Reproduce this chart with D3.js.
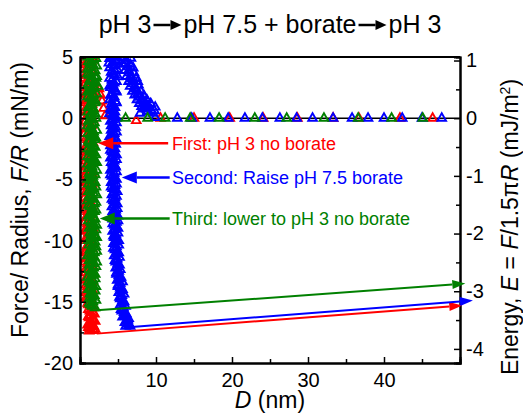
<!DOCTYPE html>
<html>
<head>
<meta charset="utf-8">
<script src="https://cdn.jsdelivr.net/npm/d3@7"></script>
<style>
  body { margin: 0; background: #fff; }
  text { font-family: "Liberation Sans", Arial, sans-serif; }
</style>
</head>
<body>
<div id="chart"></div>
<script>
var svgWidth = 523;
var svgHeight = 419;

var margin = {
  top: 57,
  right: 63,
  bottom: 56,
  left: 80
};

var width = svgWidth - margin.left - margin.right;
var height = svgHeight - margin.top - margin.bottom;

// Data: [D (nm), F/R (mN/m)]
// First: pH 3 no borate (red)
var firstContact = [[1.2,6.0],[0.7,5.75],[1.5,5.5],[0.9,5.25],[1.7,5.0],[0.6,4.75],[1.1,4.5],[1.4,4.25],[0.8,4.0],
  [1.6,3.75],[1.0,3.5],[0.6,3.25],[1.3,3.0],[1.8,2.75],[0.9,2.5],[1.2,2.25],[0.7,2.0],[1.5,1.75],[1.0,1.5],
  [0.6,1.25],[1.4,1.0],[1.7,0.75],[0.8,0.5],[1.1,0.25],[1.5,0.0],[0.7,-0.25],[1.2,-0.5],[0.9,-0.75],[1.6,-1.0],
  [0.6,-1.25],[1.3,-1.5],[1.0,-1.75],[1.7,-2.0],[0.8,-2.25],[1.2,-2.5],[0.6,-2.75],[1.5,-3.0],[1.0,-3.25],
  [0.7,-3.5],[1.4,-3.75],[1.1,-4.0],[0.6,-4.25],[1.6,-4.5],[0.9,-4.75],[1.3,-5.0],[0.7,-5.25],[1.1,-5.5],
  [1.7,-5.75],[0.8,-6.0],[1.4,-6.25],[0.6,-6.5],[1.2,-6.75],[1.0,-7.0],[1.6,-7.25],[0.7,-7.5],[1.3,-7.75],
  [0.9,-8.0],[1.5,-8.25],[0.6,-8.5],[1.1,-8.75],[1.7,-9.0],[0.8,-9.25],[1.3,-9.5],[1.0,-9.75],[0.6,-10.0],
  [1.5,-10.25],[0.9,-10.5],[1.2,-10.75],[0.7,-11.0],[1.6,-11.25],[1.0,-11.5],[0.6,-11.75],[1.4,-12.0],
  [0.8,-12.25],[1.2,-12.5],[1.7,-12.75],[0.9,-13.0],[0.6,-13.25],[1.3,-13.5],[1.0,-13.75],[1.6,-14.0],
  [0.7,-14.25],[1.2,-14.5],[0.9,-14.75],[1.5,-15.0],[1.1,-15.25],[1.8,-15.5],[1.3,-15.75],[1.9,-16.0],
  [1.1,-16.2],[1.6,-16.4],[2.0,-16.6],[1.2,-16.8],[1.8,-17.0],[1.1,-17.1],[2.0,-17.25],[1.5,-17.35],[1.2,-17.4],
  [1.0,5.875],[1.6,5.625],[0.7,5.375],[1.3,5.125],[1.1,4.875],[1.5,4.625],[0.7,4.375],[1.2,4.125],[1.7,3.875],
  [0.8,3.625],[1.3,3.375],[1.0,3.125],[0.7,2.875],[1.5,2.625],[1.1,2.375],[1.7,2.125],[0.9,1.875],[1.3,1.625],
  [0.8,1.375],[1.6,1.125],[1.1,0.875],[0.6,0.625],[1.4,0.375],[0.9,0.125],[1.7,-0.125],[1.0,-0.375],
  [1.5,-0.625],[0.7,-0.875],[1.2,-1.125],[1.7,-1.375],[0.8,-1.625],[1.4,-1.875],[1.0,-2.125],[1.5,-2.375],
  [0.9,-2.625],[1.3,-2.875],[0.7,-3.125],[1.6,-3.375],[1.2,-3.625],[0.8,-3.875],[1.5,-4.125],[1.0,-4.375],
  [0.7,-4.625],[1.4,-4.875],[1.0,-5.125],[1.6,-5.375],[0.8,-5.625],[1.2,-5.875],[1.0,-6.125],[1.6,-6.375],
  [0.9,-6.625],[1.4,-6.875],[0.7,-7.125],[1.2,-7.375],[1.0,-7.625],[1.6,-7.875],[0.8,-8.125],[1.3,-8.375],
  [1.0,-8.625],[1.5,-8.875],[0.7,-9.125],[1.1,-9.375],[1.6,-9.625],[0.8,-9.875],[1.3,-10.125],[1.0,-10.375],
  [1.6,-10.625],[0.7,-10.875],[1.2,-11.125],[0.8,-11.375],[1.4,-11.625],[1.0,-11.875],[1.7,-12.125],
  [1.1,-12.375],[0.7,-12.625],[1.3,-12.875],[1.0,-13.125],[1.6,-13.375],[0.8,-13.625],[1.2,-13.875],
  [1.0,-14.125],[1.6,-14.375],[0.8,-14.625],[1.3,-14.875],[1.0,-15.125],[1.5,-15.375],[1.1,-15.625],
  [1.7,-15.875],[1.4,-16.1],[1.2,-16.3],[1.8,-16.5],[1.5,-16.7],[1.0,-16.9],[1.6,-17.05],[1.3,-17.2],[1.8,-17.3]];
var firstTail = [[2.5,2.4],[2.7,1.9],[2.9,1.4],[3.1,0.8],[3.3,0.2],[7.4,-0.2]];
var firstFlat = [[10.6,0.0],[15.0,0.0],[19.7,0.0],[24.1,0.0],[28.6,0.0],[33.3,0.0],[36.7,0.0],[42.1,0.0],[46.4,0.0]];
var firstJump = [[2.2,-17.6],[50.3,-15.3]];

// Second: raise pH 7.5 borate (blue)
var secondContact = [[4.4,6.0],[5.0,5.75],[3.9,5.5],[4.7,5.25],[4.2,5.0],[5.1,4.75],[3.8,4.5],[4.5,4.25],
  [4.9,4.0],[4.1,3.75],[4.6,3.5],[3.9,3.25],[4.8,3.0],[4.3,2.75],[4.0,2.5],[4.7,2.25],[4.2,2.0],[4.5,1.75],
  [3.9,1.5],[4.8,1.25],[4.3,1.0],[4.0,0.75],[4.6,0.5],[4.2,0.25],[4.8,0.0],[4.0,-0.25],[4.4,-0.5],[4.7,-0.75],
  [4.1,-1.0],[4.5,-1.25],[3.9,-1.5],[4.8,-1.75],[4.3,-2.0],[4.0,-2.25],[4.6,-2.5],[4.2,-2.75],[4.8,-3.0],
  [4.0,-3.25],[4.5,-3.5],[4.3,-3.75],[4.7,-4.0],[4.0,-4.25],[4.5,-4.5],[4.2,-4.75],[4.8,-5.0],[4.1,-5.25],
  [4.6,-5.5],[4.3,-5.75],[4.9,-6.0],[4.2,-6.25],[4.6,-6.5],[4.4,-6.75],[4.9,-7.0],[4.2,-7.25],[4.7,-7.5],
  [4.4,-7.75],[5.0,-8.0],[4.3,-8.25],[4.8,-8.5],[4.5,-8.75],[5.0,-9.0],[4.3,-9.25],[4.7,-9.5],[4.5,-9.75],
  [5.1,-10.0],[4.4,-10.25],[4.8,-10.5],[4.6,-10.75],[5.1,-11.0],[4.5,-11.25],[4.9,-11.5],[4.7,-11.75],
  [5.2,-12.0],[4.7,-12.25],[5.1,-12.5],[4.8,-12.75],[5.4,-13.0],[4.9,-13.25],[5.3,-13.5],[5.0,-13.75],
  [5.6,-14.0],[5.1,-14.25],[5.5,-14.5],[5.3,-14.75],[5.8,-15.0],[5.3,-15.25],[5.7,-15.5],[5.5,-15.75],
  [6.1,-16.0],[5.6,-16.25],[6.3,-16.5],[5.9,-16.7],[6.5,-16.85],[6.0,-17.0],[6.6,-17.0],
  [4.7,5.875],[4.1,5.625],[5.1,5.375],[4.4,5.125],[3.9,4.875],[4.8,4.625],[4.2,4.375],[3.9,4.125],[4.6,3.875],
  [4.3,3.625],[5.0,3.375],[4.2,3.125],[4.5,2.875],[3.9,2.625],[4.4,2.375],[4.8,2.125],[4.0,1.875],[4.4,1.625],
  [4.7,1.375],[4.1,1.125],[4.6,0.875],[4.3,0.625],[3.9,0.375],[4.5,0.125],[4.3,-0.125],[4.8,-0.375],
  [4.1,-0.625],[4.4,-0.875],[4.8,-1.125],[4.2,-1.375],[4.5,-1.625],[4.0,-1.875],[4.7,-2.125],[4.3,-2.375],
  [4.0,-2.625],[4.5,-2.875],[4.3,-3.125],[4.8,-3.375],[4.1,-3.625],[4.6,-3.875],[4.3,-4.125],[4.8,-4.375],
  [4.0,-4.625],[4.5,-4.875],[4.4,-5.125],[4.8,-5.375],[4.1,-5.625],[4.6,-5.875],[4.4,-6.125],[4.8,-6.375],
  [4.2,-6.625],[4.7,-6.875],[4.5,-7.125],[4.9,-7.375],[4.3,-7.625],[4.7,-7.875],[4.6,-8.125],[5.0,-8.375],
  [4.3,-8.625],[4.8,-8.875],[4.6,-9.125],[5.0,-9.375],[4.4,-9.625],[4.8,-9.875],[4.7,-10.125],[5.1,-10.375],
  [4.4,-10.625],[4.9,-10.875],[4.8,-11.125],[5.2,-11.375],[4.6,-11.625],[5.0,-11.875],[4.9,-12.125],
  [5.3,-12.375],[4.8,-12.625],[5.1,-12.875],[5.2,-13.125],[5.6,-13.375],[5.0,-13.625],[5.3,-13.875],
  [5.4,-14.125],[5.8,-14.375],[5.2,-14.625],[5.6,-14.875],[5.5,-15.125],[6.0,-15.375],[5.4,-15.625],
  [5.8,-15.875],[5.9,-16.125],[6.4,-16.375],[6.1,-16.6],[6.3,-16.8],[6.4,-16.95]];
var secondTail = [[5.4,5.5],[5.9,5.2],[5.5,4.9],[6.1,4.7],[5.7,4.4],[6.3,4.2],[5.9,3.9],[6.5,3.7],[6.1,3.4],
  [6.8,3.2],[6.4,3.0],[7.0,2.8],[6.6,2.6],[7.3,2.4],[6.9,2.2],[7.6,2.0],[7.2,1.9],[7.9,1.7],[7.5,1.5],
  [8.2,1.4],[7.8,1.2],[8.6,1.1],[8.1,0.95],[9.0,0.85],[8.5,0.75],[9.4,0.65],[8.9,0.55],[7.9,0.4],[9.6,0.4],
  [5.6,5.0],[6.0,4.5],[6.4,3.9],[6.7,3.5],[6.9,3.0],[7.2,2.6],[7.5,2.3],[7.8,1.9],[8.2,1.6],[8.6,1.3],
  [9.0,1.0],[8.3,0.8],[9.8,0.6],[6.2,5.6],[6.7,4.9],[7.0,4.1],[7.4,3.3],[7.7,2.7],[8.0,2.2],[8.4,1.85],
  [8.8,1.5],[9.3,1.2],[9.9,0.9],[6.6,4.4],[7.1,3.7],[7.6,3.0]];
var secondFlat = [[9.9,0.05],[12.8,0.0],[14.7,0.0],[17.1,0.0],[19.5,0.0],[21.7,0.0],[24.0,0.0],[26.3,0.0],
  [28.5,0.0],[30.6,0.0],[33.3,0.0],[35.8,0.0],[37.9,0.0],[40.0,0.0],[42.4,0.0],[45.0,0.0],[47.6,0.0]];
var secondJump = [[6.8,-17.05],[51.7,-14.9]];

// Third: lower to pH 3 no borate (green)
var thirdContact = [[1.6,6.0],[1.1,5.75],[2.0,5.5],[1.4,5.25],[1.0,5.0],[1.8,4.75],[1.3,4.5],[2.2,4.25],
  [1.0,4.0],[1.7,3.75],[1.2,3.5],[2.1,3.25],[1.5,3.0],[1.0,2.75],[1.9,2.5],[1.3,2.25],[2.2,2.0],[1.0,1.75],
  [1.6,1.5],[2.0,1.25],[1.2,1.0],[1.8,0.75],[1.0,0.5],[1.5,0.25],[2.1,0.0],[1.1,-0.25],[1.7,-0.5],[1.3,-0.75],
  [2.2,-1.0],[1.0,-1.25],[1.6,-1.5],[2.0,-1.75],[1.2,-2.0],[1.8,-2.25],[1.0,-2.5],[1.5,-2.75],[2.1,-3.0],
  [1.3,-3.25],[1.9,-3.5],[1.0,-3.75],[1.6,-4.0],[2.2,-4.25],[1.2,-4.5],[1.7,-4.75],[1.0,-5.0],[2.0,-5.25],
  [1.4,-5.5],[1.8,-5.75],[1.1,-6.0],[2.2,-6.25],[1.5,-6.5],[1.0,-6.75],[1.9,-7.0],[1.3,-7.25],[2.1,-7.5],
  [1.6,-7.75],[1.1,-8.0],[2.0,-8.25],[1.4,-8.5],[2.2,-8.75],[1.2,-9.0],[1.8,-9.25],[1.5,-9.5],[2.2,-9.75],
  [1.1,-10.0],[1.7,-10.25],[2.1,-10.5],[1.3,-10.75],[1.9,-11.0],[1.0,-11.25],[1.6,-11.5],[2.2,-11.75],
  [1.2,-12.0],[1.8,-12.25],[1.4,-12.5],[2.0,-12.75],[1.0,-13.0],[1.7,-13.25],[1.3,-13.5],[2.1,-13.75],
  [1.1,-14.0],[1.6,-14.25],[1.9,-14.5],[1.2,-14.75],[1.7,-15.0],[1.4,-15.25],[2.0,-15.5],
  [1.3,5.875],[1.8,5.625],[1.0,5.375],[1.6,5.125],[2.1,4.875],[1.1,4.625],[1.7,4.375],[1.4,4.125],[2.0,3.875],
  [1.0,3.625],[1.6,3.375],[1.3,3.125],[1.9,2.875],[1.2,2.625],[1.6,2.375],[1.0,2.125],[1.8,1.875],[1.3,1.625],
  [2.1,1.375],[1.5,1.125],[1.1,0.875],[1.7,0.625],[2.0,0.375],[1.2,0.125],[1.6,-0.125],[1.9,-0.375],
  [1.0,-0.625],[1.5,-0.875],[1.8,-1.125],[1.3,-1.375],[2.1,-1.625],[1.1,-1.875],[1.5,-2.125],[2.0,-2.375],
  [1.3,-2.625],[1.8,-2.875],[1.0,-3.125],[1.6,-3.375],[2.2,-3.625],[1.4,-3.875],[1.1,-4.125],[1.8,-4.375],
  [2.0,-4.625],[1.3,-4.875],[1.6,-5.125],[1.1,-5.375],[2.1,-5.625],[1.5,-5.875],[1.8,-6.125],[1.2,-6.375],
  [1.7,-6.625],[2.1,-6.875],[1.1,-7.125],[1.6,-7.375],[1.9,-7.625],[1.3,-7.875],[1.7,-8.125],[1.1,-8.375],
  [1.8,-8.625],[1.6,-8.875],[2.1,-9.125],[1.3,-9.375],[1.9,-9.625],[1.4,-9.875],[2.0,-10.125],[1.2,-10.375],
  [1.6,-10.625],[2.2,-10.875],[1.4,-11.125],[1.9,-11.375],[1.2,-11.625],[1.7,-11.875],[2.1,-12.125],
  [1.1,-12.375],[1.7,-12.625],[1.5,-12.875],[2.0,-13.125],[1.1,-13.375],[1.7,-13.625],[1.4,-13.875],
  [2.0,-14.125],[1.3,-14.375],[1.6,-14.625],[2.1,-14.875],[1.2,-15.125],[1.6,-15.375]];
var thirdTail = [[2.4,2.6],[2.2,3.4]];
var thirdFlat = [[6.0,0.0],[8.9,0.0],[11.2,0.0],[14.5,0.0],[18.3,0.0],[23.0,0.0],[27.2,0.0],[32.1,0.0],
  [36.6,0.0],[41.0,0.0],[45.1,0.0]];
var thirdJump = [[2.2,-15.7],[50.7,-13.5]];

// Annotations
var annotText = ["First: pH 3 no borate", "Second: Raise pH 7.5 borate", "Third: lower to pH 3 no borate"];
var annotF = [-2.05, -4.84, -8.2];
var annotTip = [2.4, 5.5, 2.6];
var annotTail = [11.6, 11.8, 11.8];
var annotTextD = 12.1;

var colors = ["#ff0000", "#0000ff", "#008000"];

var xTicks = [10, 20, 30, 40];
var xMinor = [5, 15, 25, 35, 45];
var yTicks = [5, 0, -5, -10, -15, -20];
var yMinor = [2.5, -2.5, -7.5, -12.5, -17.5];
var eTicks = [1, 0, -1, -2, -3, -4];
var eMinor = [0.5, -0.5, -1.5, -2.5, -3.5];

var svg = d3.select("#chart")
  .append("svg")
  .attr("width", svgWidth)
  .attr("height", svgHeight);

var chartGroup = svg.append("g")
  .attr("transform", `translate(${margin.left}, ${margin.top})`);

var xScale = d3.scaleLinear().domain([0, 50]).range([0, width]);
var yScale = d3.scaleLinear().domain([-20, 5]).range([height, 0]);
var eScale = d3.scaleLinear().domain([-20 / (1.5 * Math.PI), 5 / (1.5 * Math.PI)]).range([height, 0]);

// clip for markers
svg.append("defs").append("clipPath").attr("id", "clip")
  .append("rect").attr("width", width).attr("height", height);

// zero line
chartGroup.append("line")
  .attr("x1", 0).attr("x2", width)
  .attr("y1", yScale(0)).attr("y2", yScale(0))
  .attr("stroke", "#000").attr("stroke-width", 1.5);

var plotArea = chartGroup.append("g").attr("clip-path", "url(#clip)");
var tri = d3.symbol().type(d3.symbolTriangle).size(32);

function drawSeries(data, color) {
  plotArea.append("g").selectAll("path")
    .data(data)
    .enter()
    .append("path")
    .attr("d", tri)
    .attr("transform", d => `translate(${xScale(d[0])},${yScale(d[1])})`)
    .attr("fill", "none")
    .attr("stroke", color)
    .attr("stroke-width", 1.9);
}

drawSeries(firstFlat.concat(firstTail, firstContact), colors[0]);
drawSeries(secondFlat.concat(secondTail, secondContact), colors[1]);
drawSeries(thirdFlat.concat(thirdTail, thirdContact), colors[2]);

function arrow(g, p1, p2, color, lw, hl, hw) {
  var ang = Math.atan2(p2[1] - p1[1], p2[0] - p1[0]);
  var bx = p2[0] - hl * Math.cos(ang), by = p2[1] - hl * Math.sin(ang);
  g.append("line")
    .attr("x1", p1[0]).attr("y1", p1[1]).attr("x2", bx).attr("y2", by)
    .attr("stroke", color).attr("stroke-width", lw);
  var nx = -Math.sin(ang) * hw, ny = Math.cos(ang) * hw;
  g.append("path")
    .attr("d", `M${p2[0]},${p2[1]}L${bx + nx},${by + ny}L${bx - nx},${by - ny}Z`)
    .attr("fill", color);
}

// Axes
var tf = d => String(d);
chartGroup.append("g").attr("class", "axis")
  .attr("transform", `translate(0, ${height})`)
  .call(d3.axisBottom(xScale).tickValues(xTicks).tickSize(-6).tickPadding(10).tickFormat(tf));
chartGroup.append("g").attr("class", "axis")
  .attr("transform", `translate(0, ${height})`)
  .call(d3.axisBottom(xScale).tickValues(xMinor).tickSize(-4).tickFormat(""));
chartGroup.append("g").attr("class", "axis")
  .call(d3.axisLeft(yScale).tickValues(yTicks).tickSize(-6).tickPadding(7).tickFormat(tf));
chartGroup.append("g").attr("class", "axis")
  .call(d3.axisLeft(yScale).tickValues(yMinor).tickSize(-4).tickFormat(""));
chartGroup.append("g").attr("class", "axis")
  .attr("transform", `translate(${width}, 0)`)
  .call(d3.axisRight(eScale).tickValues(eTicks).tickSize(-6).tickPadding(6).tickFormat(tf));
chartGroup.append("g").attr("class", "axis")
  .attr("transform", `translate(${width}, 0)`)
  .call(d3.axisRight(eScale).tickValues(eMinor).tickSize(-4).tickFormat(""));

chartGroup.selectAll(".axis path.domain").attr("stroke", "#000").attr("stroke-width", 2);
chartGroup.selectAll(".axis line").attr("stroke", "#000").attr("stroke-width", 1.5);
chartGroup.selectAll(".axis text")
  .attr("font-size", 20)
  .attr("fill", "#000")
  .style("font-family", "'Liberation Sans', Arial, sans-serif");

// top frame
chartGroup.append("line")
  .attr("x1", 0).attr("x2", width).attr("y1", 0).attr("y2", 0)
  .attr("stroke", "#000").attr("stroke-width", 2);

// pull-off arrows
[firstJump, secondJump, thirdJump].forEach(function(j, i) {
  arrow(chartGroup, [xScale(j[0][0]), yScale(j[0][1])], [xScale(j[1][0]), yScale(j[1][1])], colors[i], 2, 13, 4.5);
});

// annotations
annotText.forEach(function(t, i) {
  var yy = yScale(annotF[i]);
  arrow(chartGroup, [xScale(annotTail[i]), yy], [xScale(annotTip[i]), yy], colors[i], 2.5, 15, 6);
  chartGroup.append("text")
    .attr("x", xScale(annotTextD))
    .attr("y", yy)
    .attr("dy", "0.36em")
    .attr("font-size", 18)
    .attr("fill", colors[i])
    .text(t);
});

// axis titles
svg.append("text")
  .attr("x", margin.left + width / 2)
  .attr("y", 408)
  .attr("text-anchor", "middle")
  .attr("font-size", 23)
  .html('<tspan font-style="italic">D</tspan> (nm)');

svg.append("text")
  .attr("transform", "translate(28, 200) rotate(-90)")
  .attr("text-anchor", "middle")
  .attr("font-size", 23)
  .html('Force/ Radius, <tspan font-style="italic">F/R</tspan> (mN/m)');

svg.append("text")
  .attr("transform", "translate(518, 227) rotate(-90)")
  .attr("text-anchor", "middle")
  .attr("font-size", 23)
  .html('Energy, <tspan font-style="italic">E</tspan> = <tspan font-style="italic">F</tspan>/1.5\u03c0<tspan font-style="italic">R</tspan> (mJ/m<tspan baseline-shift="super" font-size="14">2</tspan>)');

// title with drawn arrows
var titleParts = ["pH 3", "pH 7.5 + borate", "pH 3"];
var titleG = svg.append("g");
var arrowW = 28, gap = 2;
var partW = titleParts.map(function(p) {
  var t = titleG.append("text").attr("font-size", 25).attr("y", 33).text(p);
  return { node: t, w: t.node().getComputedTextLength() };
});
var totalW = d3.sum(partW, d => d.w) + 2 * (arrowW + 2 * gap);
var cx = 270 - totalW / 2;
partW.forEach(function(p, i) {
  p.node.attr("x", cx);
  cx += p.w;
  if (i < partW.length - 1) {
    arrow(titleG, [cx + gap, 25], [cx + gap + arrowW, 25], "#000", 2.5, 11, 5);
    cx += arrowW + 2 * gap;
  }
});
</script>
</body>
</html>
